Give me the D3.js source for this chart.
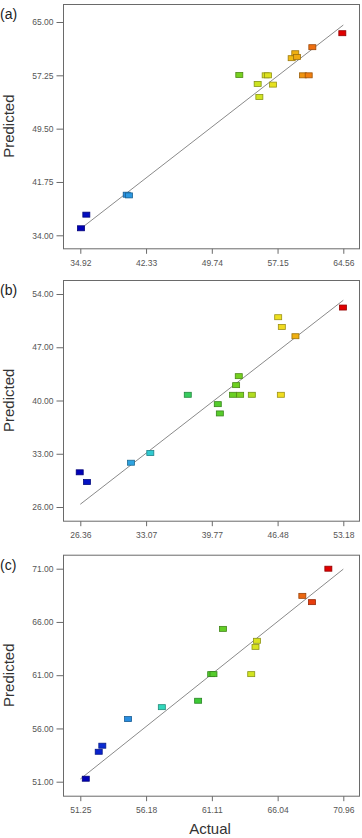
<!DOCTYPE html>
<html lang="en">
<head>
<meta charset="utf-8">
<title>Predicted vs Actual</title>
<script src="https://d3js.org/d3.v7.min.js"></script>
<style>
  body { margin: 0; background: #fff; }
  svg { display: block; }
</style>
</head>
<body>
<script>
// --- data ---
var actualA    = [35.00, 35.60, 40.15, 40.41, 52.84, 54.91, 55.10, 55.81, 56.07, 56.64, 58.74, 59.15, 59.34, 60.02, 60.66, 61.07, 64.45];
var predictedA = [35.02, 37.00, 39.90, 39.80, 57.30, 56.00, 54.10, 57.25, 57.25, 55.90, 59.74, 60.46, 59.93, 57.25, 57.25, 61.34, 63.37];
var xTicksA = [34.92, 42.33, 49.74, 57.15, 64.56];
var yTicksA = [34.00, 41.75, 49.50, 57.25, 65.00];

var actualB    = [26.30, 27.04, 31.53, 33.50, 37.32, 40.38, 40.59, 41.94, 42.25, 42.52, 42.66, 43.85, 46.54, 46.91, 46.81, 48.30, 53.14];
var predictedB = [30.56, 29.28, 31.82, 33.09, 40.75, 39.52, 38.30, 40.75, 42.02, 43.20, 40.75, 40.75, 50.95, 49.67, 40.75, 48.45, 52.22];
var xTicksB = [26.36, 33.07, 39.77, 46.48, 53.18];
var yTicksB = [26.00, 33.00, 40.00, 47.00, 54.00];

var actualC    = [51.66, 52.63, 52.90, 54.83, 57.36, 60.08, 61.06, 61.23, 61.94, 64.06, 64.38, 64.49, 67.89, 68.61, 69.84];
var predictedC = [51.28, 53.81, 54.38, 56.88, 58.00, 58.60, 61.10, 61.10, 65.35, 61.10, 63.66, 64.23, 68.45, 67.86, 71.00];
var xTicksC = [51.25, 56.18, 61.11, 66.04, 70.96];
var yTicksC = [51.00, 56.00, 61.00, 66.00, 71.00];

var panelLabels = ["(a)", "(b)", "(c)"];

var W = 362, H = 838;
var frameLeft = 63, frameRight = 359;
var xLo = 80.3, xHi = 343.3;

var panels = [
  {label: panelLabels[0], actual: actualA, predicted: predictedA, xt: xTicksA, yt: yTicksA, top: 4,     yHi: 22,    yLo: 235.3, bottom: 248.3},
  {label: panelLabels[1], actual: actualB, predicted: predictedB, xt: xTicksB, yt: yTicksB, top: 280,   yHi: 294,   yLo: 507,   bottom: 520.7},
  {label: panelLabels[2], actual: actualC, predicted: predictedC, xt: xTicksC, yt: yTicksC, top: 554.7, yHi: 568.7, yLo: 781.7, bottom: 795.7}
];

// Design-Expert style rainbow, coloured by actual value
var rainbow = d3.scaleLinear()
  .domain([0, 0.1, 0.2, 0.3, 0.45, 0.6, 0.68, 0.76, 0.82, 0.87, 0.92, 1])
  .range(["#0000b8", "#1040e0", "#30a8e0", "#30d8c8", "#38c838", "#70d020", "#d0e420", "#f0e020", "#f0b010", "#f08010", "#e84810", "#e00000"]);

var svg = d3.select("body").append("svg")
  .attr("width", W)
  .attr("height", H);

panels.forEach(function(p) {
  var g = svg.append("g");

  var x = d3.scaleLinear().domain([p.xt[0], p.xt[p.xt.length - 1]]).range([xLo, xHi]);
  var y = d3.scaleLinear().domain([p.yt[0], p.yt[p.yt.length - 1]]).range([p.yLo, p.yHi]);

  // frame
  g.append("rect")
    .attr("x", frameLeft + 0.5)
    .attr("y", p.top + 0.5)
    .attr("width", frameRight - frameLeft)
    .attr("height", p.bottom - p.top)
    .attr("fill", "none")
    .attr("stroke", "#6a6a6a")
    .attr("stroke-width", 1);

  // x axis
  var xAxis = d3.axisBottom(x)
    .tickValues(p.xt)
    .tickFormat(d3.format(".2f"))
    .tickSizeInner(5)
    .tickSizeOuter(0)
    .tickPadding(6);
  var xg = g.append("g")
    .attr("transform", "translate(0," + (p.bottom + 0.5) + ")")
    .call(xAxis);
  xg.select(".domain").remove();

  // y axis
  var yAxis = d3.axisLeft(y)
    .tickValues(p.yt)
    .tickFormat(d3.format(".2f"))
    .tickSizeInner(7)
    .tickSizeOuter(0)
    .tickPadding(3);
  var yg = g.append("g")
    .attr("transform", "translate(" + (frameLeft + 0.5) + ",0)")
    .call(yAxis);
  yg.select(".domain").remove();

  g.selectAll(".tick line").attr("stroke", "#6a6a6a");
  g.selectAll(".tick text")
    .attr("fill", "#555")
    .style("font-family", "'Liberation Sans', Arial, sans-serif")
    .style("font-size", "8.5px");

  // 1:1 line
  var lo = Math.max(p.xt[0], p.yt[0]);
  var hi = Math.min(p.xt[p.xt.length - 1], p.yt[p.yt.length - 1]);
  g.append("line")
    .attr("x1", x(lo)).attr("y1", y(lo))
    .attr("x2", x(hi)).attr("y2", y(hi))
    .attr("stroke", "#8a8a8a")
    .attr("stroke-width", 1);

  // points
  var xmin = d3.min(p.actual), xmax = d3.max(p.actual);
  g.selectAll("rect.pt")
    .data(p.actual)
    .enter()
    .append("rect")
    .attr("class", "pt")
    .attr("x", function(d) { return x(d) - 3.5; })
    .attr("y", function(d, i) { return y(p.predicted[i]) - 2.5; })
    .attr("width", 7)
    .attr("height", 5)
    .attr("fill", function(d) { return rainbow((d - xmin) / (xmax - xmin)); })
    .attr("stroke", function(d) { return d3.color(rainbow((d - xmin) / (xmax - xmin))).darker(1.2); })
    .attr("stroke-width", 0.8);

  // panel label
  g.append("text")
    .attr("x", 0)
    .attr("y", p.top + 15)
    .attr("fill", "#222")
    .style("font-family", "'Liberation Sans', Arial, sans-serif")
    .style("font-size", "14px")
    .text(p.label);

  // y title
  g.append("text")
    .attr("transform", "translate(14," + ((p.top + p.bottom) / 2) + ") rotate(-90)")
    .attr("text-anchor", "middle")
    .attr("fill", "#333")
    .style("font-family", "'Liberation Sans', Arial, sans-serif")
    .style("font-size", "15px")
    .text("Predicted");
});

// x title
svg.append("text")
  .attr("x", 210)
  .attr("y", 834)
  .attr("text-anchor", "middle")
  .attr("fill", "#333")
  .style("font-family", "'Liberation Sans', Arial, sans-serif")
  .style("font-size", "15px")
  .text("Actual");
</script>
</body>
</html>
